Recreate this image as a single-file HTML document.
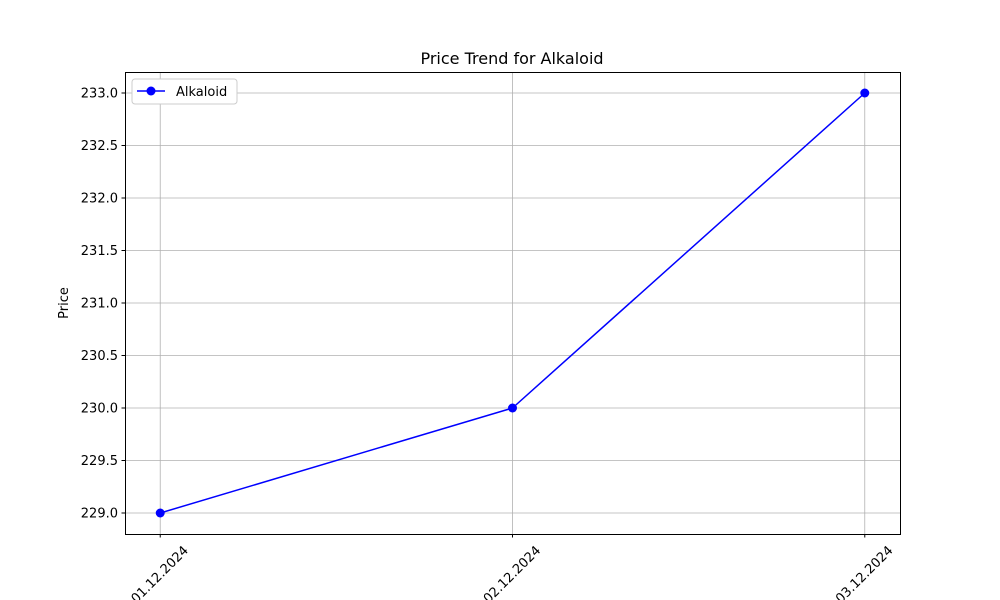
<!DOCTYPE html>
<html><head><meta charset="utf-8"><style>body{margin:0;background:#fff}svg{display:block;font-family:"DejaVu Sans","Liberation Sans",sans-serif}</style></head>
<body>
<svg id="chart" width="1000" height="600" xmlns="http://www.w3.org/2000/svg">
<rect width="1000" height="600" fill="#fff"/>
<text x="512" y="64" text-anchor="middle" font-size="16">Price Trend for Alkaloid</text>
<text transform="translate(68,303) rotate(-90)" text-anchor="middle" font-size="13">Price</text>
<g id="grid"></g><g id="ticks"></g><g id="series"></g>
<rect x="125.5" y="72.5" width="775" height="462" fill="none" stroke="#000" stroke-width="1"/>
<g>
<rect x="132" y="79" width="105" height="25" rx="3" fill="#fff" stroke="#ccc"/>
<line x1="137" y1="91" x2="165" y2="91" stroke="#0000ff" stroke-width="1.5"/>
<circle cx="151" cy="91" r="4.5" fill="#0000ff"/>
<text x="176" y="96" font-size="13">Alkaloid</text>
</g>
</svg>
<script>
const categories=["01.12.2024","02.12.2024","03.12.2024"];
const values=[229.0,230.0,233.0];
const yTicks=[229.0,229.5,230.0,230.5,231.0,231.5,232.0,232.5,233.0];
const NS="http://www.w3.org/2000/svg";
const L=125,R=900,T=72,B=534,xmin=-0.1,xmax=2.1,ymin=228.8,ymax=233.2;
const xs=i=>L+(i-xmin)/(xmax-xmin)*(R-L);
const ys=v=>B-(v-ymin)/(ymax-ymin)*(B-T);
function mk(tag,a,p){const e=document.createElementNS(NS,tag);for(const k in a)e.setAttribute(k,a[k]);p.appendChild(e);return e;}
const g=document.getElementById('grid'),t=document.getElementById('ticks'),s=document.getElementById('series');
yTicks.forEach(v=>{const y=ys(v);
const gl=mk('line',{x1:L,x2:R,y1:y,y2:y,stroke:'#b0b0b0','stroke-width':0.8},g);

mk('line',{x1:L-3.5,x2:L,y1:y,y2:y,stroke:'#000'},t);
const tx=mk('text',{x:L-7,y:y+4.5,'text-anchor':'end','font-size':13},t);tx.textContent=v.toFixed(1);
});
categories.forEach((c,i)=>{const x=xs(i);
const gl=mk('line',{x1:x,x2:x,y1:T,y2:B,stroke:'#b0b0b0','stroke-width':0.8},g);

mk('line',{x1:x,x2:x,y1:B,y2:B+3.5,stroke:'#000'},t);
const tx=mk('text',{transform:`translate(${x},575) rotate(-45)`,'text-anchor':'middle','dominant-baseline':'central','font-size':13},t);tx.textContent=c;
});
const pl=mk('polyline',{points:values.map((v,i)=>xs(i)+','+ys(v)).join(' '),fill:'none',stroke:'#0000ff','stroke-width':1.5},s);

values.forEach((v,i)=>{const c=mk('circle',{cx:xs(i),cy:ys(v),r:4.5,fill:'#0000ff'},s);
});
</script>
</body></html>
